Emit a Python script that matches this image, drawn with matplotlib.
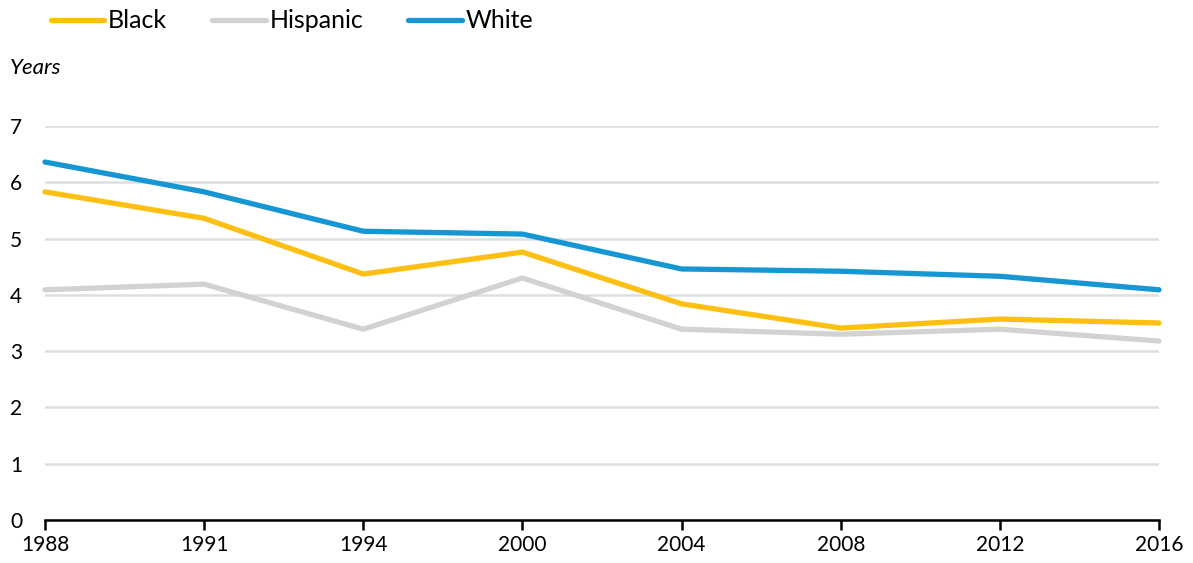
import numpy as np
import matplotlib.pyplot as plt

plt.rcParams['font.family'] = ['Lato', 'DejaVu Sans']

# data
years = ['1988', '1991', '1994', '2000', '2004', '2008', '2012', '2016']
black = [5.83, 5.36, 4.37, 4.76, 3.84, 3.41, 3.57, 3.50]
hispanic = [4.09, 4.19, 3.39, 4.30, 3.39, 3.30, 3.39, 3.18]
white = [6.36, 5.83, 5.13, 5.08, 4.46, 4.42, 4.33, 4.09]

colors = {'Black': '#fdbf11', 'Hispanic': '#d2d2d2', 'White': '#1696d2'}

fig = plt.figure(figsize=(11.93, 5.63), dpi=100)
ax = fig.add_axes([45/1193, 1-520/563, (1159-45)/1193, (520-126)/563])

x = np.arange(len(years))
for name, vals in [('Black', black), ('Hispanic', hispanic), ('White', white)]:
    ax.plot(x, vals, color=colors[name], lw=3.8, solid_capstyle='round',
            label=name, clip_on=False, zorder=3)

ax.set_xlim(0, len(years) - 1)
ax.set_ylim(0, 7)
ax.set_xticks(x)
ax.set_xticklabels(years)
ax.set_yticks(range(8))
ax.yaxis.grid(True, color='#dedede', lw=1.8)
ax.set_axisbelow(True)
for s in ['top', 'right', 'left']:
    ax.spines[s].set_visible(False)
ax.spines['bottom'].set_linewidth(1.8)
ax.spines['bottom'].set_zorder(4)
ax.tick_params(axis='y', length=0, pad=25, labelsize=15)
ax.tick_params(axis='x', length=7, width=1.8, pad=4, labelsize=15)
for lab in ax.get_yticklabels():
    lab.set_horizontalalignment('left')

fig.text(10/1193, 1-68/563, 'Years', fontsize=16, style='italic', va='center')

fig.legend(loc='center left', bbox_to_anchor=(28/1193, 1-21/563), ncol=3,
           frameon=False, fontsize=18, handlelength=2.15, handletextpad=0.15,
           columnspacing=1.8)

fig.savefig('out.png', dpi=100)
